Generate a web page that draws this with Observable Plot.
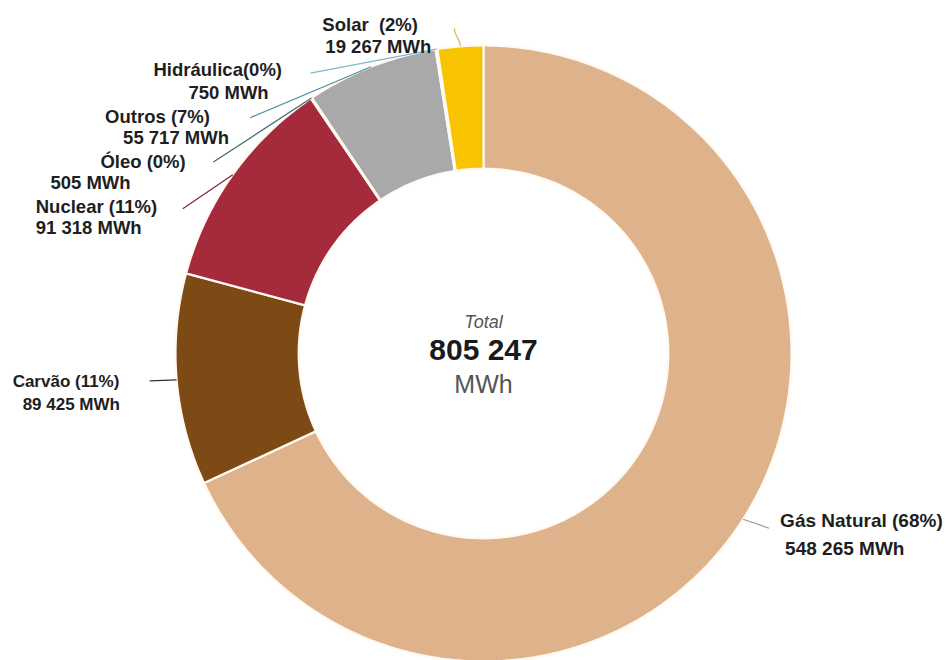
<!DOCTYPE html>
<html><head><meta charset="utf-8">
<script src="https://cdn.jsdelivr.net/npm/d3@7"></script>
<script src="https://cdn.jsdelivr.net/npm/@observablehq/plot@0.6"></script>
<style>body{margin:0;background:#fff}#chart svg{display:block}</style>
</head><body><div id="chart"></div>
<script>
// ---- data ----
const names = ["Gás Natural", "Carvão", "Nuclear", "Óleo", "Outros", "Hidráulica", "Solar"];
const nameLabels = ["Gás Natural (68%)", "Carvão (11%)", "Nuclear (11%)", "Óleo (0%)", "Outros (7%)", "Hidráulica(0%)", "Solar  (2%)"];
const values = [548265, 89425, 91318, 505, 55717, 750, 19267];
const valueLabels = ["548 265 MWh", "89 425 MWh", "91 318 MWh", "505 MWh", "55 717 MWh", "750 MWh", "19 267 MWh"];
const totalTitle = "Total";
const totalLabel = "805 247";
const unitLabel = "MWh";

// ---- styles ----
const sliceColors = {"Gás Natural": "#deb38b", "Carvão": "#7d4914", "Nuclear": "#a52a3c", "Óleo": "#f2c4c8", "Outros": "#a9a9a9", "Hidráulica": "#fbe8a6", "Solar": "#f8c300"};
const leaderColors = {"Gás Natural": "#9a9a9a", "Carvão": "#333333", "Nuclear": "#8a2232", "Óleo": "#3f6a72", "Outros": "#4d8fa0", "Hidráulica": "#7fb6cc", "Solar": "#d9b84a"};
const labelSize = {"Gás Natural": 19, "Carvão": 17};

// ---- layout (pixels) ----
const W = 949, H = 660, CX = 483, CY = 353, R = 308, INNER = 0.6;
const leaderEnd = {"Gás Natural": [26, 9], "Carvão": [-27, 1], "Nuclear": [-50, 34], "Óleo": [-98, 64], "Outros": [-121, 51], "Hidráulica": [-126, 24], "Solar": [-6, -18]};
const labelOffset = {
  "Gás Natural": [[37, 8], [42, 36]],
  "Carvão": [[-164, 7], [-154, 30]],
  "Nuclear": [[-197, 38], [-197, 59]],
  "Óleo": [[-211, 70], [-261, 91]],
  "Outros": [[-266, 56], [-248, 77]],
  "Hidráulica": [[-283, 27], [-248, 50]],
  "Solar": [[-138, -15], [-135, 7]]
};

// ---- build ----
const pie = d3.pie().sort(null).value(d => d.value).startAngle(0).endAngle(2 * Math.PI);
const arcs = pie(names.map((name, i) => ({name, value: values[i], i})));

const ring = [];
for (const a of arcs) {
  const n = Math.max(2, Math.ceil((a.endAngle - a.startAngle) / (Math.PI / 360)));
  const nm = a.data.name;
  for (let k = 0; k <= n; k++) {
    const t = a.startAngle + (a.endAngle - a.startAngle) * k / n;
    ring.push({name: nm, x: Math.sin(t), y: Math.cos(t)});
  }
  for (let k = n; k >= 0; k--) {
    const t = a.startAngle + (a.endAngle - a.startAngle) * k / n;
    ring.push({name: nm, x: INNER * Math.sin(t), y: INNER * Math.cos(t)});
  }
}

const anchors = arcs.map(a => {
  const m = (a.startAngle + a.endAngle) / 2;
  return {name: a.data.name, i: a.data.i, x: Math.sin(m), y: Math.cos(m)};
});
const leaders = anchors.map(a => {
  const [dx, dy] = leaderEnd[a.name];
  return {name: a.name, x1: a.x, y1: a.y, x2: a.x + dx / R, y2: a.y - dy / R};
});
const labels = anchors.flatMap(a => [0, 1].map(line => {
  const [dx, dy] = labelOffset[a.name][line];
  return {name: a.name, text: line === 0 ? nameLabels[a.i] : valueLabels[a.i],
    x: a.x + dx / R, y: a.y - dy / R, size: labelSize[a.name] || 18.5};
}));

const font = "'Liberation Sans', Arial, sans-serif";
const chart = Plot.plot({
  width: W, height: H,
  margin: 0,
  style: {background: "#fff", fontFamily: font},
  x: {domain: [-CX / R, (W - CX) / R], axis: null},
  y: {domain: [-(H - CY) / R, CY / R], axis: null},
  color: {type: "identity"},
  marks: [
    Plot.line(ring, {x: "x", y: "y", z: "name", fill: d => sliceColors[d.name], stroke: "#fff9f2", strokeWidth: 2.2, curve: "linear-closed"}),
    Plot.link(leaders.filter(d => d.name !== "Solar"), {x1: "x1", y1: "y1", x2: "x2", y2: "y2", stroke: d => leaderColors[d.name], strokeWidth: 1.2}),
    Plot.link(leaders.filter(d => d.name === "Solar"), {x1: "x1", y1: "y1", x2: "x2", y2: "y2", stroke: d => leaderColors[d.name], strokeWidth: 1.2, curve: "bump-y"}),
    Plot.text(labels, {x: "x", y: "y", text: "text", textAnchor: "start", lineAnchor: "bottom", fontSize: "size", fontWeight: "bold", fill: "#1e1e1e", fontFamily: font}),
    Plot.text([totalTitle], {x: [0], y: [26 / R], text: d => d, textAnchor: "middle", lineAnchor: "bottom", fontSize: 18, fontStyle: "italic", fill: "#555", fontFamily: font}),
    Plot.text([totalLabel], {x: [0], y: [-6 / R], text: d => d, textAnchor: "middle", lineAnchor: "bottom", fontSize: 30, fontWeight: "bold", fill: "#1a1a1a", fontFamily: font}),
    Plot.text([unitLabel], {x: [0], y: [-39 / R], text: d => d, textAnchor: "middle", lineAnchor: "bottom", fontSize: 25, fill: "#555", fontFamily: font})
  ]
});
document.getElementById("chart").appendChild(chart);
</script>
</body></html>
